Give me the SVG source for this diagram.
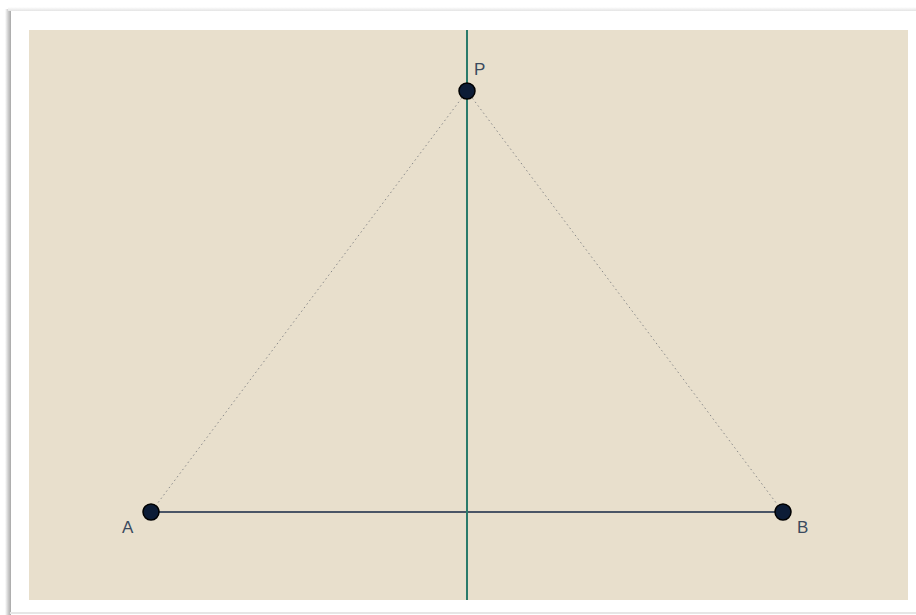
<svg xmlns="http://www.w3.org/2000/svg" width="916" height="615" viewBox="0 0 916 615">
<defs>
<linearGradient id="sl" x1="0" x2="1" y1="0" y2="0"><stop offset="0" stop-color="#fff"/><stop offset="0.5" stop-color="#d0d0d0"/><stop offset="1" stop-color="#a8a8a8"/></linearGradient>
<linearGradient id="st" x1="0" x2="0" y1="0" y2="1"><stop offset="0" stop-color="#fff"/><stop offset="1" stop-color="#e4e4e4"/></linearGradient>
</defs>
<style>
.pt{fill:#0c1c36;stroke:#000;stroke-width:1.5}
.lbl{font-family:"Liberation Sans",Arial,sans-serif;font-size:17px;fill:#3b4a5e}
.dot{stroke:#8a8a8a;stroke-width:1;stroke-dasharray:1.5 3;fill:none}
</style>
<rect x="0" y="0" width="916" height="615" fill="#fff"/>
<rect x="5" y="9" width="6" height="606" fill="url(#sl)"/>
<rect x="8" y="7" width="908" height="4" fill="url(#st)"/>
<rect x="11" y="11" width="905" height="602" fill="#fff"/>
<rect x="10" y="612" width="906" height="2" fill="#e6e6e6"/>
<rect x="29" y="30" width="879" height="570" fill="#e8dfcc"/>
<g id="connectors">
<line class="dot" x1="467" y1="91" x2="151" y2="512"/>
<line class="dot" x1="467" y1="91" x2="783" y2="512"/>
<line x1="151" y1="512" x2="783" y2="512" stroke="#4a5566" stroke-width="2"/>
<line x1="467" y1="30" x2="467" y2="600" stroke="#2a7a6a" stroke-width="2"/>
</g>
<g id="P"><circle class="pt" cx="467" cy="91" r="8"/><text class="lbl" x="474" y="75">P</text></g>
<g id="A"><circle class="pt" cx="151" cy="512" r="8"/><text class="lbl" x="122" y="533">A</text></g>
<g id="B"><circle class="pt" cx="783" cy="512" r="8"/><text class="lbl" x="797" y="533">B</text></g>
</svg>
